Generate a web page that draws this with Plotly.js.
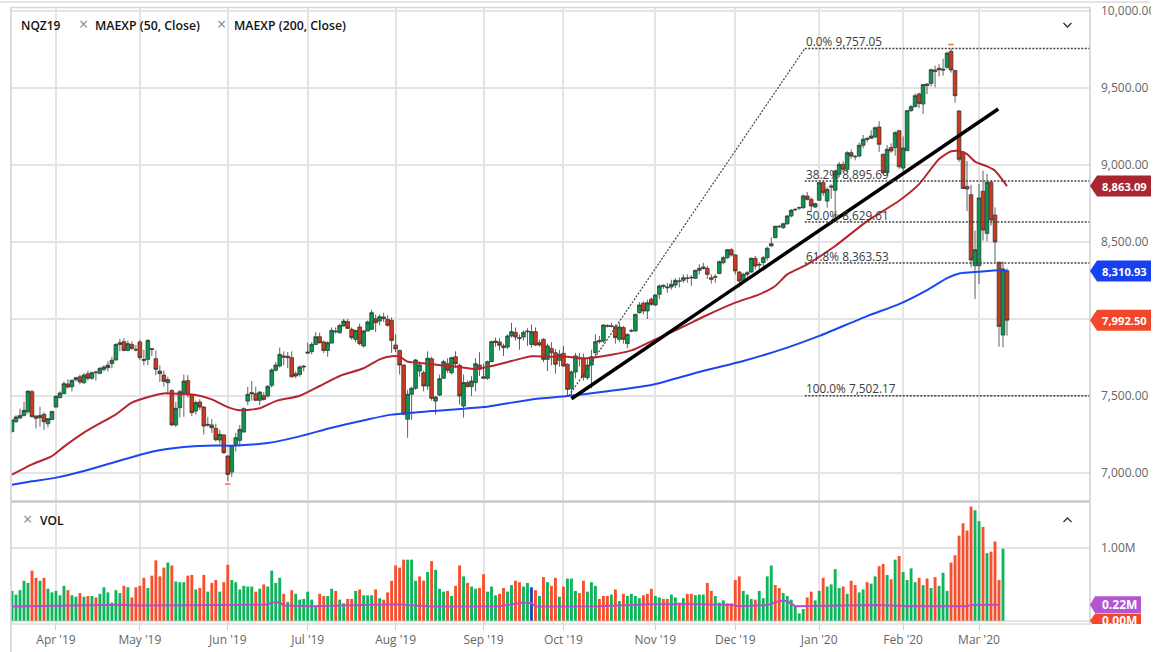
<!DOCTYPE html>
<html>
<head>
<meta charset="utf-8">
<script src="https://cdn.plot.ly/plotly-3.0.1.min.js"></script>
<style>html,body{margin:0;padding:0;background:#fff}#c{width:1162px;height:652px}</style>
</head>
<body>
<div id="c"></div>
<script>
const opens = [
7270,7333,7357,7374,7398,7528,7370,7359,7381,7320,
7348,7428,7489,7515,7578,7560,7606,7625,7586,7645,
7615,7651,7647,7673,7701,7710,7734,7835,7853,7796,
7835,7803,7851,7738,7738,7807,7742,7662,7636,7586,
7535,7312,7424,7522,7600,7509,7402,7461,7428,7316,
7312,7290,7214,7247,7110,7006,7186,7212,7266,7467,
7522,7515,7472,7502,7500,7569,7667,7695,7760,7758,
7749,7645,7640,7688,7786,7788,7835,7885,7851,7796,
7844,7922,7911,7955,7983,7933,7868,7948,7825,7922,
7933,8002,7987,8013,7998,7991,7831,7796,7701,7349,
7511,7550,7662,7651,7565,7742,7467,7506,7615,7710,
7651,7755,7699,7435,7587,7561,7587,7701,7625,7615,
7723,7857,7851,7825,7818,7890,7913,7879,7883,7922,
7835,7918,7846,7868,7738,7809,7781,7732,7777,7706,
7548,7656,7749,7742,7619,7701,7781,7861,7857,7958,
7956,7950,7868,7944,7840,7924,7922,8041,8102,8052,
8128,8091,8160,8219,8208,8208,8221,8247,8251,8266,
8270,8264,8316,8338,8329,8268,8275,8296,8366,8398,
8450,8416,8305,8251,8290,8305,8394,8355,8366,8398,
8474,8528,8602,8593,8619,8669,8712,8723,8723,8799,
8777,8727,8771,8885,8766,8864,8836,8940,9004,8972,
9080,9056,9058,9128,9173,9173,9182,9247,9069,8950,
9113,9113,9223,8980,9093,9353,9379,9461,9396,9526,
9530,9617,9628,9623,9634,9738,9613,9351,9084,8861,
8807,8346,8346,8829,8556,8888,8675,8368,7896,8314];
const closes = [
7344,7364,7374,7407,7532,7366,7355,7374,7333,7353,
7400,7498,7519,7580,7558,7602,7619,7591,7636,7615,
7651,7655,7679,7688,7684,7732,7835,7846,7796,7840,
7809,7799,7749,7732,7861,7803,7673,7645,7595,7606,
7312,7420,7528,7597,7511,7392,7457,7428,7305,7312,
7294,7216,7251,7132,6991,7179,7229,7283,7418,7511,
7515,7472,7526,7478,7563,7669,7701,7771,7753,7749,
7625,7630,7688,7693,7779,7835,7885,7846,7796,7846,
7926,7918,7957,7987,7939,7879,7926,7840,7922,7981,
8041,7976,8015,8004,7959,7861,7805,7701,7381,7511,
7550,7734,7701,7565,7745,7485,7493,7612,7723,7667,
7749,7710,7500,7587,7561,7597,7710,7673,7615,7723,
7853,7848,7829,7814,7890,7918,7883,7874,7913,7918,
7918,7831,7831,7738,7825,7781,7706,7771,7695,7543,
7656,7760,7742,7623,7701,7755,7853,7853,7961,7954,
7952,7879,7948,7868,7900,7922,8030,8091,8052,8106,
8095,8156,8214,8212,8203,8225,8251,8245,8268,8264,
8268,8316,8329,8329,8290,8258,8273,8372,8398,8450,
8416,8312,8247,8290,8301,8394,8344,8351,8398,8459,
8489,8602,8600,8619,8669,8706,8710,8721,8799,8777,
8734,8749,8885,8820,8842,8857,8961,9004,8972,9080,
9058,9054,9128,9167,9167,9188,9242,9134,8950,9102,
9091,9210,8989,9110,9353,9379,9450,9400,9522,9517,
9619,9608,9619,9617,9727,9617,9450,9037,8848,8844,
8383,8450,8786,8578,8888,8643,8500,7952,8325,7992.5];
const highs = [
7350,7375,7418,7462,7535,7540,7375,7430,7395,7353,
7402,7505,7530,7595,7610,7605,7625,7640,7650,7665,
7660,7665,7690,7700,7725,7755,7842,7870,7875,7860,
7855,7830,7865,7800,7870,7812,7795,7700,7665,7625,
7545,7460,7540,7640,7635,7515,7470,7480,7435,7365,
7350,7320,7280,7250,7115,7182,7260,7312,7425,7560,
7597,7560,7530,7525,7570,7680,7720,7815,7790,7785,
7790,7660,7700,7700,7846,7850,7915,7910,7860,7855,
7945,7945,7970,8000,8000,7945,7930,7970,7930,7990,
8060,8030,8030,8040,8025,8010,7900,7800,7705,7540,
7560,7740,7725,7665,7790,7755,7500,7640,7735,7745,
7755,7790,7710,7640,7600,7630,7745,7785,7710,7730,
7860,7880,7875,7840,7900,7975,7945,7900,7925,7940,
7965,7945,7865,7875,7840,7850,7805,7800,7825,7712,
7665,7780,7780,7775,7745,7800,7900,7890,7965,7965,
7975,7965,7975,7955,7905,7935,8035,8110,8115,8125,
8140,8160,8225,8225,8235,8255,8265,8270,8290,8290,
8285,8320,8355,8365,8345,8290,8290,8380,8410,8455,
8460,8420,8312,8300,8312,8400,8410,8370,8410,8470,
8530,8605,8610,8625,8675,8715,8720,8730,8810,8825,
8790,8755,8890,8895,8855,8875,8970,9020,9025,9090,
9100,9065,9145,9195,9180,9225,9250,9285,9075,9130,
9140,9220,9228,9185,9358,9390,9465,9470,9525,9530,
9625,9645,9655,9690,9735,9757,9620,9355,9090,9026,
8872,8574,8877,8963,8942,8898,8725,8374,8374,8329];
const lows = [
7262,7325,7350,7366,7385,7360,7290,7300,7279,7295,
7345,7425,7485,7512,7550,7530,7595,7575,7580,7600,
7605,7600,7640,7660,7660,7680,7730,7790,7790,7790,
7800,7790,7735,7700,7700,7760,7635,7590,7560,7510,
7305,7300,7360,7365,7490,7370,7380,7410,7250,7300,
7260,7205,7190,7125,6948,6975,7140,7170,7265,7440,
7470,7465,7440,7470,7490,7555,7660,7685,7700,7680,
7620,7615,7625,7660,7775,7770,7830,7840,7780,7755,
7840,7905,7905,7950,7935,7865,7850,7830,7815,7920,
7930,7915,7960,7980,7950,7780,7785,7640,7375,7229,
7345,7540,7625,7530,7540,7470,7380,7500,7610,7650,
7640,7680,7445,7359,7555,7500,7530,7630,7610,7605,
7720,7820,7795,7760,7805,7880,7860,7800,7860,7825,
7815,7825,7820,7720,7662,7700,7645,7690,7690,7505,
7490,7615,7690,7600,7605,7550,7760,7840,7845,7945,
7945,7840,7850,7840,7810,7915,7918,8035,8030,8000,
8085,8085,8130,8195,8170,8190,8200,8205,8235,8235,
8215,8260,8290,8320,8260,8230,8235,8290,8355,8390,
8405,8290,8205,8235,8270,8300,8320,8320,8340,8380,
8470,8525,8590,8585,8610,8660,8700,8710,8715,8770,
8700,8720,8770,8800,8723,8780,8650,8920,8950,8950,
9040,9030,9050,9110,9150,9170,9175,9085,8940,8930,
9080,9060,8975,8960,9090,9345,9375,9370,9331,9460,
9510,9505,9575,9580,9625,9600,9405,9020,8845,8701,
8335,8130,8227,8509,8504,8606,8368,7820,7816,7892];
const volumes = [
.41,.36,.42,.55,.52,.69,.59,.55,.59,.44,
.39,.41,.35,.48,.42,.35,.33,.38,.33,.34,
.34,.32,.37,.46,.39,.25,.42,.38,.48,.46,
.32,.46,.48,.59,.45,.62,.83,.61,.73,.80,
.76,.54,.53,.53,.62,.63,.43,.45,.63,.40,
.52,.56,.40,.53,.77,.56,.53,.43,.48,.47,
.47,.40,.44,.50,.47,.69,.52,.59,.37,.26,
.42,.37,.29,.30,.40,.29,.19,.37,.34,.34,
.44,.41,.29,.24,.30,.30,.41,.43,.35,.35,
.35,.43,.31,.29,.39,.55,.76,.73,.84,.84,
.84,.55,.61,.55,.67,.82,.70,.44,.40,.41,
.34,.48,.76,.61,.52,.47,.44,.45,.64,.40,
.47,.35,.37,.45,.40,.49,.55,.53,.47,.52,
.46,.42,.34,.60,.53,.48,.59,.33,.47,.58,
.58,.41,.38,.55,.40,.53,.48,.30,.34,.34,
.36,.43,.27,.37,.34,.37,.34,.31,.35,.37,
.44,.34,.32,.30,.30,.36,.32,.25,.31,.37,
.37,.35,.36,.36,.52,.41,.34,.25,.28,.24,
.24,.56,.61,.41,.36,.30,.29,.41,.31,.61,
.76,.49,.45,.38,.34,.29,.19,.10,.16,.32,
.40,.28,.41,.59,.47,.50,.71,.45,.47,.37,
.55,.49,.39,.43,.53,.51,.61,.75,.78,.63,
.57,.84,.89,.67,.56,.72,.53,.59,.49,.58,
.45,.60,.48,.66,.41,.80,.90,1.17,1.34,1.24,
1.57,1.52,1.37,1.29,.93,.95,1.09,.56,.99];
const volumeDirection = (
"GGGGGRRGRG"+"GGGGRGGRGR"+"GRGGGGGGRG"+"RRRRGRRRRG"+"RGGGRRGRRG"+
"RRGRRGGGGG"+"GRGRGGGGRG"+"RGGGGGGRRG"+"GRGGRRGRGG"+"GRGRRRRRRG"+
"GGRRGRGGGR"+"GRRGRGGRRG"+"GGRRGGRRGG"+"BRGRGRRGRG"+"GGRRGGGRRR"+
"GRGRGGGGRR"+"RGGRRGGRGR"+"RGGGRRGGGR"+"RRRGGGRGGG"+"GRRGGGGGGR"+
"RGGRGGGGRG"+"RRGGRGGRRG"+"RGRGGGGRGR"+"GRGGGRRRRR"+"RGGRGRRRG").split("");

const ema50Bars = [0,5,10,13,18,22,26,30,35,38,42,46,50,54,57,62,66,72,77,82,88,92,95,97,99,104,108,112,116,120,125,130,134,139,143,147,155,161,166,174,181,187,191,194,199,206,214,222,227,232,235,237,239,241,244,246,249];
const ema50Vals = [6989,7056,7110,7171,7262,7322,7381,7457,7500,7517,7513,7506,7478,7428,7407,7420,7467,7502,7565,7630,7680,7738,7758,7755,7723,7710,7697,7688,7675,7695,7727,7758,7755,7755,7745,7755,7796,7868,7926,8026,8106,8160,8214,8290,8355,8474,8636,8768,8876,9039,9089,9091,9071,9022,8991,8963,8863.09];
const ema200Bars = [0,5,11,18,26,35,43,51,55,64,72,80,89,95,105,118,130,139,147,160,172,183,194,202,214,222,229,234,237,242,247,249];
const ema200Vals = [6924,6946,6970,7013,7073,7138,7169,7179,7177,7195,7238,7294,7348,7379,7402,7428,7478,7500,7524,7571,7656,7727,7814,7890,8019,8097,8188,8266,8296,8307,8316,8310.93];
const volMaBars = [0,27,32,45,64,65,67,68,75,96,105,122,128,130,131,147,160,172,180,182,189,192,194,196,204,216,225,239,240,247];
const volMaVals = [.195,.22,.21,.21,.22,.25,.25,.21,.20,.225,.195,.20,.25,.24,.195,.20,.225,.225,.215,.20,.215,.27,.27,.20,.21,.215,.20,.20,.215,.22];

const fibLevels = [9757.05,8895.69,8629.61,8363.53,7502.17];
const fibLabels = ["0.0% 9,757.05","38.2% 8,895.69","50.0% 8,629.61","61.8% 8,363.53","100.0% 7,502.17"];
const fibFrom = 198.4, fibTo = 269.77;
const fibDiagBars = [139.4,198.4];
const fibDiagVals = [7502.17,9757.05];
const trendBars = [140,246.8];
const trendVals = [7482,9364];
const extremeBars = [235,54];
const extremeVals = [9782,6928];
const monthBars = [11,32,54,74,96,118,138,161,181,202,223,242];
const monthLabels = ["Apr '19","May '19","Jun '19","Jul '19","Aug '19","Sep '19","Oct '19","Nov '19","Dec '19","Jan '20","Feb '20","Mar '20"];
const priceTicks = [7000,7500,8000,8500,9000,9500,10000];
const priceTickLabels = ["7,000.00","7,500.00","","8,500.00","9,000.00","9,500.00","10,000.00"];

const barIdx = opens.map((_,i)=>i);
const FONT = '"Open Sans", "Noto Sans", sans-serif';
const L=11,R=1090,T=7,B=624;
const px = x=>(x-L)/(R-L), py = y=>(B-y)/(B-T);
const volColors = {G:'#10b45c',R:'#f5502f',B:'#2446b8'};

const traces = [
 {type:'candlestick',x:barIdx,open:opens,high:highs,low:lows,close:closes,xaxis:'x',yaxis:'y',
  increasing:{line:{color:'#3a3a3a',width:0.8},fillcolor:'#0b9650'},
  decreasing:{line:{color:'#3a3a3a',width:0.8},fillcolor:'#cc3a1e'},
  whiskerwidth:0,hoverinfo:'skip',showlegend:false},
 {type:'scatter',mode:'lines',x:ema200Bars,y:ema200Vals,line:{color:'#1c46f0',width:2,shape:'spline',smoothing:0.6},hoverinfo:'skip'},
 {type:'scatter',mode:'lines',x:ema50Bars,y:ema50Vals,line:{color:'#b5262e',width:2,shape:'spline',smoothing:0.6},hoverinfo:'skip'},
 {type:'scatter',mode:'lines',x:fibDiagBars,y:fibDiagVals,line:{color:'#444',width:1.2,dash:'2px,1.5px'},hoverinfo:'skip'},
 {type:'scatter',mode:'lines',x:trendBars,y:trendVals,line:{color:'#000',width:3.5},hoverinfo:'skip'},
 {type:'scatter',mode:'markers',x:extremeBars,y:extremeVals,marker:{symbol:'line-ew',size:4,line:{color:'#f4705a',width:1.5}},hoverinfo:'skip'},
 {type:'bar',x:volumes.map((_,i)=>i),y:volumes,xaxis:'x',yaxis:'y2',width:0.72,
  marker:{color:volumeDirection.map(d=>volColors[d]),line:{width:0}},hoverinfo:'skip'},
 {type:'scatter',mode:'lines',x:volMaBars,y:volMaVals,xaxis:'x',yaxis:'y2',line:{color:'#b84cc8',width:2},hoverinfo:'skip'}
];
fibLevels.forEach(v=>traces.push({type:'scatter',mode:'lines',x:[fibFrom,fibTo],y:[v,v],
  line:{color:'#444',width:1.5,dash:'2px,1.5px'},hoverinfo:'skip'}));

const annotations = [];
fibLevels.forEach((v,i)=>annotations.push({x:fibFrom+0.3,y:v,xref:'x',yref:'y',text:fibLabels[i],showarrow:false,
  xanchor:'left',yanchor:'bottom',yshift:-2.8,xshift:-2,font:{family:FONT,size:11.8,color:'#3c3c3c'}}));
const label=(x,y,t,o={})=>annotations.push(Object.assign({x:px(x),y:py(y),xref:'paper',yref:'paper',text:t,showarrow:false,xanchor:'left',yanchor:'middle',
  xshift:0,font:{family:FONT,size:12,color:'#111',weight:600}},o));
const legendFont={family:FONT,size:12.3,color:'#111',weight:600};
label(19,25,'NQZ19');
label(93,25,'MAEXP (50, Close)',{font:legendFont});
label(232,25,'MAEXP (200, Close)',{font:legendFont});
label(38,520,'VOL');
label(77,24,'×',{font:{family:FONT,size:16,color:'#888'}});
label(215,24,'×',{font:{family:FONT,size:16,color:'#888'}});
label(21,519,'×',{font:{family:FONT,size:16,color:'#888'}});

const tag=(y,yref,color,text,w)=>{
  return {type:'path',xref:'paper',yref:yref,xsizemode:'pixel',ysizemode:'pixel',xanchor:1,yanchor:y,
    path:`M0,0 L7,-${w} L${61},-${w} L${61},${w} L7,${w} Z`,fillcolor:color,line:{width:0},layer:'above'};
};
const tagLabel=(y,yref,text)=>annotations.push({x:1,y:y,xref:'paper',yref:yref,text:text,showarrow:false,xanchor:'left',yanchor:'middle',xshift:10,
  font:{family:FONT,size:11.2,color:'#fff',weight:700}});
const hline=(x0,x1,y,c,w)=>({type:'line',xref:'paper',yref:'paper',x0:px(x0),x1:px(x1),y0:py(y),y1:py(y),line:{color:c,width:w},layer:'above'});
const vline=(x,y0,y1,c,w)=>({type:'line',xref:'paper',yref:'paper',x0:px(x),x1:px(x),y0:py(y0),y1:py(y1),line:{color:c,width:w},layer:'above'});
const chev=(x,y,dir)=>({type:'path',xref:'paper',yref:'paper',
  path:`M${px(x-4)},${py(y-2*dir)} L${px(x)},${py(y+2*dir)} L${px(x+4)},${py(y-2*dir)}`,line:{color:'#333',width:1.3},layer:'above'});

const shapes = [
 {type:'rect',xref:'paper',yref:'paper',x0:px(1151),x1:px(1162),y0:py(0),y1:py(652),fillcolor:'#fff',line:{width:0},layer:'above'},
 {type:'rect',xref:'paper',yref:'paper',x0:px(1091),x1:px(1151),y0:py(0),y1:py(6),fillcolor:'#fff',line:{width:0},layer:'above'},
 hline(0,1150,2,'#dcdcdc',1.5),
 hline(11,1090,7.5,'#d8d8d8',1.5),
 hline(11,1090,501.5,'#c8c8c8',2.5),
 hline(11,1090,624,'#dcdcdc',1.5),
 vline(11,7,652,'#cfcfcf',1.5),
 vline(1090,7,625,'#cfcfcf',1.5),
 chev(1067.5,25,1),
 chev(1067.5,520,-1),
 tag(8863.09,'y','#a8262f','',10.5),
 tag(8310.93,'y','#1741f0','',10.5),
 tag(7992.50,'y','#f2472a','',10.5),
 {type:'path',xref:'paper',yref:'y2',xsizemode:'pixel',ysizemode:'pixel',xanchor:1,yanchor:0,
   path:'M0,0 L5,7 L51,7 L51,-7 L5,-7 Z',fillcolor:'#f2472a',line:{width:0},layer:'above'},
 {type:'path',xref:'paper',yref:'y2',xsizemode:'pixel',ysizemode:'pixel',xanchor:1,yanchor:0.22,
   path:'M0,0 L5,8.5 L51,8.5 L51,-8.5 L5,-8.5 Z',fillcolor:'#b455d2',line:{width:0},layer:'above'}
];
tagLabel(8863.09,'y','8,863.09');
tagLabel(8310.93,'y','8,310.93');
tagLabel(7992.50,'y','7,992.50');
annotations.push({x:1,y:0.22,xref:'paper',yref:'y2',text:'0.22M',showarrow:false,xanchor:'left',yanchor:'middle',xshift:10,font:{family:FONT,size:12,color:'#fff',weight:700}});
annotations.push({x:1,y:0,xref:'paper',yref:'y2',text:'0.00M',showarrow:false,xanchor:'left',yanchor:'middle',xshift:10,font:{family:FONT,size:12,color:'#fff',weight:700}});

const grid='#e4e4e4';
const layout = {
 width:1162,height:652,margin:{l:L,r:1162-R,t:T,b:652-B,pad:0},
 paper_bgcolor:'#fff',plot_bgcolor:'#fff',showlegend:false,dragmode:false,barmode:'overlay',boxgap:0.08,boxgroupgap:0,
 xaxis:{range:[-0.25,269.77],tickvals:monthBars,ticktext:monthLabels,anchor:'y2',showgrid:true,gridcolor:grid,gridwidth:2,zeroline:false,
   ticks:'outside',ticklen:5,tickcolor:'#cfcfcf',tickwidth:1,tickfont:{family:FONT,size:12,color:'#666'},rangeslider:{visible:false},showline:false},
 yaxis:{domain:[(B-500)/(B-T),1],range:[10000+(11-7)/0.154,10000-(500-11)/0.154].reverse(),side:'right',anchor:'x',tickvals:priceTicks,ticktext:priceTickLabels,
   showgrid:true,gridcolor:grid,gridwidth:2,zeroline:false,ticks:'',ticklabelstandoff:10,tickfont:{family:FONT,size:12,color:'#666'},showline:false},
 yaxis2:{domain:[0,(B-503)/(B-T)],range:[-0.045,1.619],side:'right',anchor:'x',tickvals:[0,1],ticktext:['','1.00M'],
   showgrid:true,gridcolor:grid,gridwidth:2,zeroline:false,ticks:'',ticklabelstandoff:10,tickfont:{family:FONT,size:12,color:'#666'},showline:false},
 annotations,shapes
};
Plotly.newPlot('c',traces,layout,{displayModeBar:false,staticPlot:true});
</script>
</body>
</html>
